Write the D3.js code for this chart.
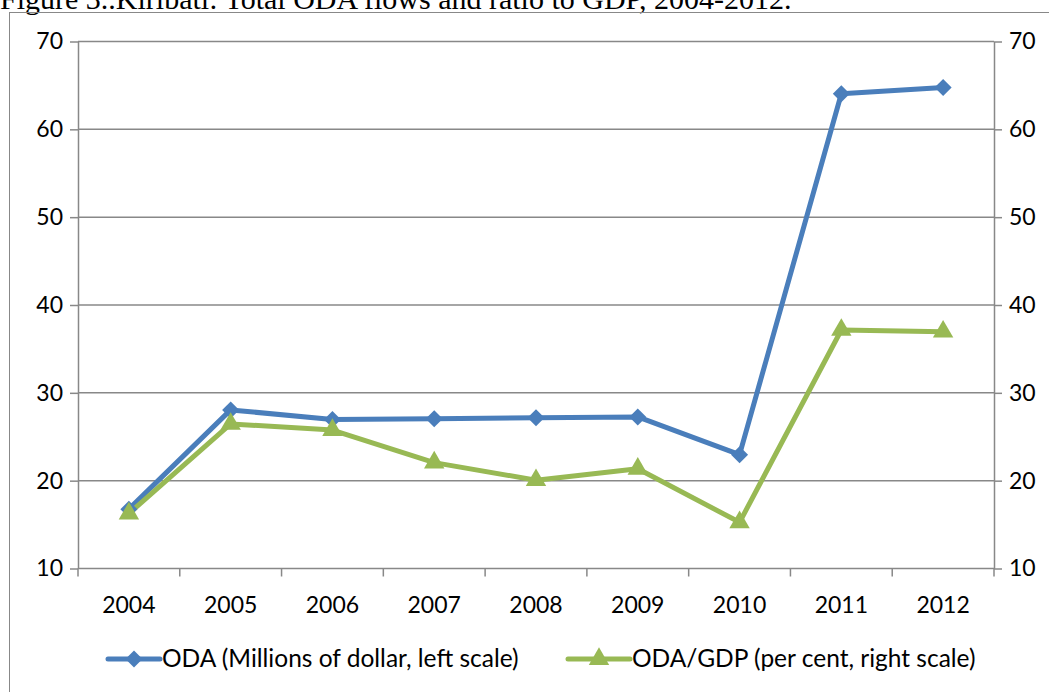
<!DOCTYPE html>
<html><head><meta charset="utf-8">
<script src="https://cdn.jsdelivr.net/npm/d3@7"></script>
<style>body{margin:0;background:#fff}svg{display:block}</style>
</head><body>
<svg id="c" width="1049" height="692"></svg>
<script>
const years = ["2004","2005","2006","2007","2008","2009","2010","2011","2012"];
const odaMillions = [16.7, 28.0, 26.9, 27.0, 27.1, 27.2, 22.9, 64.0, 64.7];
const odaGdpPct = [16.2, 26.4, 25.7, 22.0, 20.0, 21.3, 15.2, 37.1, 36.9];
const yTicks = [10, 20, 30, 40, 50, 60, 70];
const title = "Figure 3..Kiribati: Total ODA flows and ratio to GDP, 2004-2012.";
const legendLabels = ["ODA (Millions of dollar, left scale)", "ODA/GDP (per cent, right scale)"];

const svg = d3.select("#c");
const L = 78, R = 994, T = 41, B = 568;
const font = "Lato, 'Open Sans', sans-serif";
const blue = "#4a7ebb", green = "#98b954";

svg.append("text").attr("x", 0).attr("y", 9).attr("font-family", "'Liberation Serif', serif")
  .attr("font-size", 30).attr("fill", "#000").text(title);

svg.append("rect").attr("x", 9.5).attr("y", 12.5).attr("width", 1100).attr("height", 700)
  .attr("fill", "none").attr("stroke", "#888").attr("stroke-width", 1);

const x = d3.scaleBand().domain(years).range([L, R]);
const yL = d3.scaleLinear().domain([10, 70]).range([B, T]);
const yR = d3.scaleLinear().domain([10, 70]).range([B, T]);

// gridlines
svg.append("g").selectAll("line").data(yTicks.filter(d => d > 10)).join("line")
  .attr("x1", L).attr("x2", R).attr("y1", d => yL(d) + 0.5).attr("y2", d => yL(d) + 0.5)
  .attr("stroke", "#888").attr("stroke-width", 1.5);

const styleAxis = g => {
  g.select(".domain").attr("stroke", "#888").attr("stroke-width", 1.5);
  g.selectAll(".tick line").attr("stroke", "#888").attr("stroke-width", 1.5);
  g.selectAll("text").attr("font-family", font).attr("font-size", 23).attr("fill", "#000");
};

svg.append("g").attr("transform", `translate(${L},0.5)`)
  .call(d3.axisLeft(yL).tickValues(yTicks).tickSize(8).tickSizeOuter(0).tickPadding(7))
  .call(styleAxis);
svg.append("g").attr("transform", `translate(${R},0.5)`)
  .call(d3.axisRight(yR).tickValues(yTicks).tickSize(8).tickSizeOuter(0).tickPadding(7))
  .call(styleAxis);

// x axis with ticks at band boundaries
const xg = svg.append("g").attr("transform", `translate(0,${B + 0.5})`);
xg.append("line").attr("x1", L).attr("x2", R).attr("stroke", "#888").attr("stroke-width", 1.5);
const bounds = years.map(d => x(d)).concat([R]);
xg.selectAll("line.t").data(bounds).join("line").attr("class", "t")
  .attr("x1", d => d).attr("x2", d => d).attr("y1", 0).attr("y2", 8)
  .attr("stroke", "#888").attr("stroke-width", 1.5);
xg.selectAll("text").data(years).join("text")
  .attr("x", d => x(d) + x.bandwidth() / 2).attr("y", 44)
  .attr("text-anchor", "middle").attr("font-family", font).attr("font-size", 23).attr("fill", "#000")
  .text(d => d);

const cx = d => x(d) + x.bandwidth() / 2;

const lineL = d3.line().x((d, i) => cx(years[i])).y(d => yL(d));
const lineR = d3.line().x((d, i) => cx(years[i])).y(d => yR(d));

svg.append("path").attr("d", lineL(odaMillions)).attr("fill", "none").attr("stroke", blue)
  .attr("stroke-width", 5).attr("stroke-linejoin", "round");
svg.append("path").attr("d", lineR(odaGdpPct)).attr("fill", "none").attr("stroke", green)
  .attr("stroke-width", 5).attr("stroke-linejoin", "round");

const diamond = d3.symbol().type(d3.symbolDiamond2).size(185);
const tri = d3.symbol().type(d3.symbolTriangle).size(180);

svg.append("g").selectAll("path").data(odaMillions).join("path")
  .attr("d", diamond).attr("fill", blue)
  .attr("transform", (d, i) => `translate(${cx(years[i])},${yL(d)})`);
svg.append("g").selectAll("path").data(odaGdpPct).join("path")
  .attr("d", tri).attr("fill", green)
  .attr("transform", (d, i) => `translate(${cx(years[i])},${yR(d)})`);

// legend
const ly = 659;
const leg = [
  {x1: 108, x2: 160, c: blue, sym: diamond, tx: 162},
  {x1: 568, x2: 630, c: green, sym: tri, tx: 632}
];
leg.forEach((l, i) => {
  svg.append("line").attr("x1", l.x1).attr("x2", l.x2).attr("y1", ly).attr("y2", ly)
    .attr("stroke", l.c).attr("stroke-width", 5).attr("stroke-linecap", "round");
  svg.append("path").attr("d", l.sym).attr("fill", l.c)
    .attr("transform", `translate(${(l.x1 + l.x2) / 2},${ly})`);
  svg.append("text").attr("x", l.tx).attr("y", ly + 8).attr("font-family", font)
    .attr("font-size", 24.5).attr("fill", "#000").text(legendLabels[i]);
});
</script>
</body></html>
